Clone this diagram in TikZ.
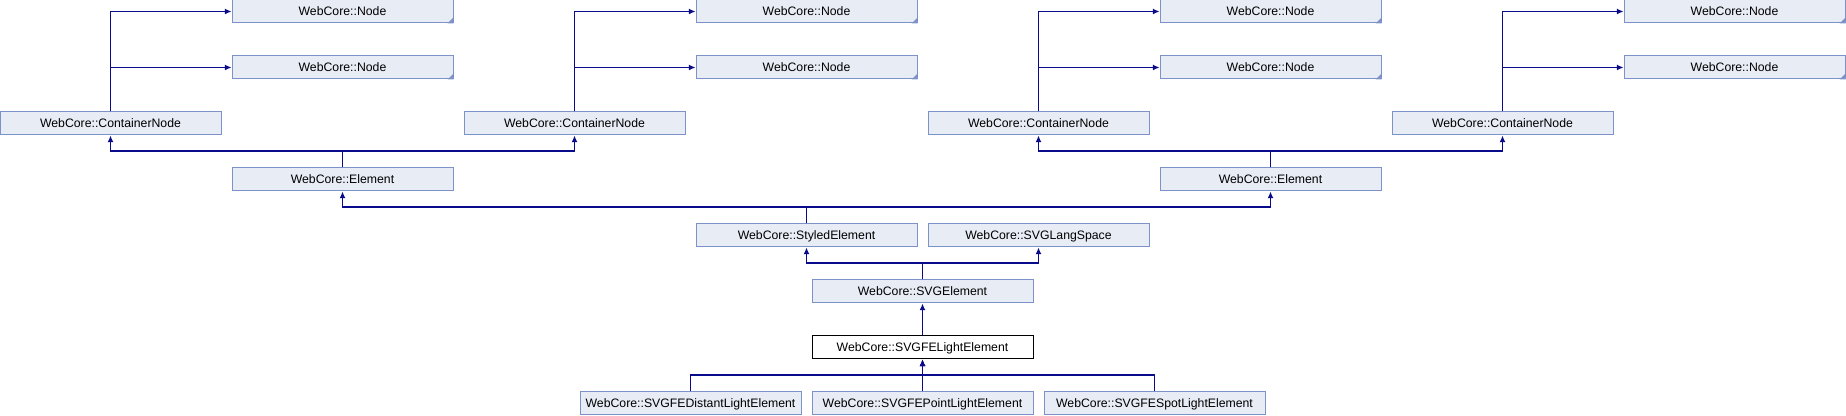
\documentclass[tikz,border=0pt]{standalone}
\usepackage{fontspec}
\setmainfont{Liberation Sans}
\usetikzlibrary{arrows.meta}
\definecolor{boxfill}{RGB}{232,236,245}
\definecolor{boxline}{RGB}{124,146,200}
\definecolor{edgecol}{RGB}{10,10,140}
\tikzset{
 cls/.style={draw=boxline, fill=boxfill, line width=.75pt, minimum width=165.75pt, minimum height=17.25pt, inner sep=0, font=\fontsize{9.2}{11}\selectfont, text height=1.45ex, text depth=.3ex},
 cur/.style={cls, draw=black, fill=white},
 edge/.style={edgecol, line width=.9pt, -{Latex[length=5pt, width=4.5pt]}}
}
\begin{document}
\begin{tikzpicture} [x=.75pt, y=-.75pt]
\useasboundingbox (0,0) rectangle (1846,416);
% the four copies of ContainerNode with its two parents
\foreach \g in {0,1,2,3} {
 \node[cls] (cn\g) at (110.5+464*\g, 123.5) {WebCore::ContainerNode};
 \node[cls] (na\g) at (342.5+464*\g, 11.5) {WebCore::Node};
 \node[cls] (nb\g) at (342.5+464*\g, 67.5) {WebCore::Node};
 \fill[boxline] (na\g.south east) --++(-6,0) --++(6,-6) -- cycle;
 \fill[boxline] (nb\g.south east) --++(-6,0) --++(6,-6) -- cycle;
 \draw[edge] (cn\g.north) |- (na\g.west);
 \draw[edge] (cn\g.north) |- (nb\g.west);
}
\node[cls] (el1) at (342.5, 179.5) {WebCore::Element};
\node[cls] (el2) at (1270.5, 179.5) {WebCore::Element};
\node[cls] (styled) at (806.5, 235.5) {WebCore::StyledElement};
\node[cls] (lang) at (1038.5, 235.5) {WebCore::SVGLangSpace};
\node[cls] (svg) at (922.5, 291.5) {WebCore::SVGElement};
\node[cur] (light) at (922.5, 347.5) {WebCore::SVGFELightElement};
\node[cls] (distant) at (690.5, 403.5) {WebCore::SVGFEDistantLightElement};
\node[cls] (point) at (922.5, 403.5) {WebCore::SVGFEPointLightElement};
\node[cls] (spot) at (1154.5, 403.5) {WebCore::SVGFESpotLightElement};
% inheritance
\draw[edge] (el1.north) --++(0,-16.5) -| (cn0.south);
\draw[edge] (el1.north) --++(0,-16.5) -| (cn1.south);
\draw[edge] (el2.north) --++(0,-16.5) -| (cn2.south);
\draw[edge] (el2.north) --++(0,-16.5) -| (cn3.south);
\draw[edge] (styled.north) --++(0,-16.5) -| (el1.south);
\draw[edge] (styled.north) --++(0,-16.5) -| (el2.south);
\draw[edge] (svg.north) --++(0,-16.5) -| (styled.south);
\draw[edge] (svg.north) --++(0,-16.5) -| (lang.south);
\draw[edge] (light.north) -- (svg.south);
\foreach \c in {distant, point, spot} {
 \draw[edge] (\c.north) --++(0,-16.5) -| (light.south);
}
\end{tikzpicture}
\end{document}
